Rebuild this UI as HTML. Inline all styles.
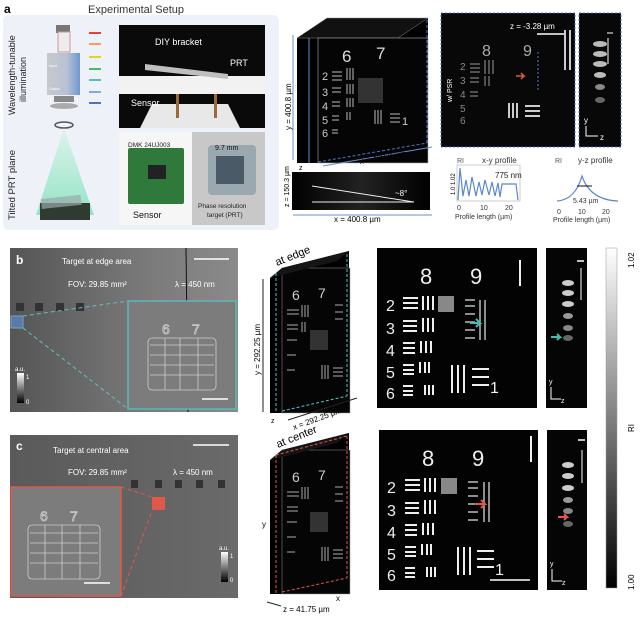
<!DOCTYPE html>
<html><head><meta charset="utf-8"><style>
html,body{margin:0;padding:0;background:#fff;width:640px;height:618px;overflow:hidden}
svg{display:block;font-family:"Liberation Sans",Arial,sans-serif}
</style></head><body>
<svg width="640" height="618" viewBox="0 0 640 618" xmlns="http://www.w3.org/2000/svg">
<defs>
<linearGradient id="cone" x1="0" y1="0" x2="0" y2="1"><stop offset="0" stop-color="#d8f5ea"/><stop offset="1" stop-color="#7fe0b8"/></linearGradient>
<linearGradient id="cb" x1="0" y1="0" x2="0" y2="1"><stop offset="0" stop-color="#fff"/><stop offset="1" stop-color="#000"/></linearGradient>
<linearGradient id="cam" x1="0" y1="0" x2="1" y2="0"><stop offset="0" stop-color="#c8c8cc"/><stop offset="0.6" stop-color="#b8c2d4"/><stop offset="1" stop-color="#6f96d0"/></linearGradient>
<linearGradient id="bgb" x1="0" y1="0" x2="1" y2="0"><stop offset="0" stop-color="#555"/><stop offset="0.6" stop-color="#7a7a7a"/><stop offset="1" stop-color="#8a8a8a"/></linearGradient>
<linearGradient id="bgc" x1="0" y1="0" x2="1" y2="0"><stop offset="0" stop-color="#5a5a5a"/><stop offset="1" stop-color="#6a6a6a"/></linearGradient>
<linearGradient id="prof" x1="0" y1="0" x2="1" y2="0"><stop offset="0" stop-color="#000"/><stop offset="0.5" stop-color="#222"/><stop offset="1" stop-color="#000"/></linearGradient>
</defs>

<!-- panel a -->
<text x="4" y="13" font-size="12" font-weight="bold">a</text>
<text x="88" y="13" font-size="11" fill="#333">Experimental Setup</text>
<rect x="3" y="15" width="276" height="215" rx="6" fill="#eef2f8"/>
<text transform="translate(15,115) rotate(-90)" font-size="9" fill="#222">Wavelength-tunable</text>
<text transform="translate(26,102) rotate(-90)" font-size="9" fill="#222">illumination</text>
<text transform="translate(15,220) rotate(-90)" font-size="9.5" fill="#222">Tilted PRT plane</text>
<rect x="56" y="25" width="14" height="8" fill="#777"/>
<rect x="58" y="32" width="12" height="20" fill="#ececec" stroke="#c99"/>
<rect x="47" y="53" width="33" height="42" fill="url(#cam)"/>
<text x="49" y="67" font-size="3.5" fill="#fff">Input</text>
<text x="49" y="90" font-size="3.5" fill="#fff">Output</text>
<rect x="54" y="96" width="20" height="6" fill="#888"/>
<ellipse cx="64" cy="106" rx="14" ry="3" fill="#aaa"/>
<ellipse cx="64" cy="125" rx="9" ry="3" fill="none" stroke="#555" stroke-width="1.5"/>
<polygon points="64,128 36,215 94,215" fill="url(#cone)" opacity="0.8"/>
<rect x="40" y="203" width="50" height="17" fill="#2f3a30"/>
<rect x="41" y="197" width="40" height="10" fill="#9aa" opacity="0.7" transform="rotate(-6 60 200)"/>
<g fill="none" stroke-width="2">
<line x1="89" y1="33" x2="101" y2="33" stroke="#e0463a"/><line x1="89" y1="44" x2="101" y2="44" stroke="#f0a060"/>
<line x1="89" y1="57" x2="101" y2="57" stroke="#e6d030"/><line x1="89" y1="69" x2="101" y2="69" stroke="#40c060"/>
<line x1="89" y1="80" x2="101" y2="80" stroke="#50c0c0"/><line x1="89" y1="92" x2="101" y2="92" stroke="#80a8d8"/>
<line x1="89" y1="103" x2="101" y2="103" stroke="#5070c0"/>
</g>
<rect x="119" y="25" width="146" height="103" fill="#0a0a0a"/>
<rect x="119" y="76" width="146" height="18" fill="#f2f2f2"/>
<polygon points="152,104 228,104 240,128 140,128" fill="#e8e8e8"/>
<polygon points="145,64 228,74 228,79 145,70" fill="#bfbfbf"/>
<rect x="176" y="94" width="3" height="24" fill="#9a6a3a"/><rect x="214" y="94" width="3" height="24" fill="#9a6a3a"/>
<text x="155" y="45" font-size="9" fill="#fff">DIY bracket</text>
<text x="230" y="66" font-size="9" fill="#fff">PRT</text>
<text x="131" y="106" font-size="9" fill="#fff">Sensor</text>
<rect x="119" y="132" width="73" height="93" fill="#f6f6f6"/>
<rect x="192" y="132" width="73" height="93" fill="#c8c8c8"/>
<rect x="128" y="148" width="56" height="56" rx="2" fill="#2f7a3a"/>
<rect x="148" y="165" width="18" height="14" fill="#222"/>
<text x="128" y="147" font-size="6.5" fill="#222">DMK 24UJ003</text>
<text x="133" y="218" font-size="9" fill="#111">Sensor</text>
<rect x="208" y="145" width="48" height="50" rx="4" fill="#9aa8b0"/>
<rect x="216" y="156" width="28" height="28" fill="#4a5a66"/>
<text x="215" y="150" font-size="7" fill="#111">9.7 mm</text>
<text x="198" y="208" font-size="6.5" fill="#222">Phase resolution</text>
<text x="207" y="217" font-size="6.5" fill="#222">target (PRT)</text>

<!-- cube a -->
<polygon points="297,163 297,38 327,18 428,18 428,143 327,163" fill="#000"/>
<polygon points="297,38 327,18 428,18 398,38" fill="#111" stroke="#888" stroke-width="0.5"/>
<rect x="318" y="38" width="110" height="125" fill="#050505" stroke="#aaa" stroke-width="0.6"/>
<line x1="309" y1="38" x2="309" y2="163" stroke="#6a8fcf" stroke-width="1"/>
<line x1="427" y1="20" x2="427" y2="143" stroke="#4f78c8" stroke-dasharray="3,2"/>
<line x1="318" y1="162" x2="427" y2="143" stroke="#4f78c8" stroke-dasharray="3,2"/>
<text x="342" y="62" font-size="17" fill="#ddd">6</text><text x="376" y="59" font-size="17" fill="#ddd">7</text>
<g fill="#ccc" font-size="11"><text x="322" y="80">2</text><text x="322" y="96">3</text><text x="322" y="110">4</text><text x="322" y="124">5</text><text x="322" y="137">6</text></g>
<g stroke="#bbb" stroke-width="1"><path d="M332,72h10M332,76h10M332,80h10M332,88h9M332,92h9M332,102h8M332,106h8M332,116h7M332,120h7M332,130h6M332,133h6"/>
<path d="M347,68v12M350,68v12M353,68v12M347,84v10M350,84v10M353,84v10M347,98v9M350,98v9M353,98v9M347,112v8M350,112v8M375,110v14M378,110v14M381,110v14M390,114h10M390,118h10M390,122h10"/></g>
<text x="402" y="125" font-size="11" fill="#ccc">1</text>
<rect x="358" y="78" width="25" height="25" fill="#333"/>
<line x1="293" y1="35" x2="293" y2="160" stroke="#6a8fcf"/>
<text transform="translate(291,130) rotate(-90)" font-size="8">y = 400.8 µm</text>
<line x1="323" y1="166" x2="432" y2="147" stroke="#6a8fcf"/>
<text transform="translate(360,164) rotate(-10)" font-size="8">x = 400.8 µm</text>
<text x="299" y="170" font-size="7">z</text>
<rect x="292" y="172" width="138" height="38" fill="url(#prof)"/>
<line x1="312" y1="186" x2="414" y2="202" stroke="#eee"/><line x1="312" y1="202" x2="414" y2="202" stroke="#eee"/>
<text x="395" y="196" font-size="8" fill="#fff">~8°</text>
<text transform="translate(289,207) rotate(-90)" font-size="7">z = 150.3 µm</text>
<line x1="293" y1="215" x2="432" y2="215" stroke="#6a8fcf"/>
<text x="334" y="222" font-size="8">x = 400.8 µm</text>

<!-- recon a -->
<rect x="441" y="13" width="134" height="134" fill="#080808" stroke="#4f78c8" stroke-dasharray="2,2"/>
<text x="510" y="29" font-size="8" fill="#fff">z = -3.28 µm</text>
<line x1="537" y1="34" x2="565" y2="34" stroke="#fff" stroke-width="1.5"/>
<text x="482" y="56" font-size="16" fill="#aaa">8</text><text x="523" y="56" font-size="16" fill="#aaa">9</text>
<text transform="translate(452,102) rotate(-90)" font-size="7" fill="#fff">w/ PSR</text>
<g fill="#888" font-size="10"><text x="460" y="70">2</text><text x="460" y="84">3</text><text x="460" y="98">4</text><text x="460" y="112">5</text><text x="460" y="124">6</text></g>
<g stroke="#999"><path d="M470,64h10M470,68h10M470,72h10M470,78h9M470,82h9M470,92h8M470,96h8M485,60v14M489,60v14M493,60v14M485,76v10M489,76v10"/>
<path d="M509,103v15M513,103v15M517,103v15M525,106h15M525,111h15M525,116h15M565,30v40M570,30v40" stroke="#ccc" stroke-width="2"/></g>
<line x1="538" y1="52" x2="538" y2="92" stroke="#4f78c8" stroke-dasharray="2,2"/>
<path d="M516,76h8l-3,-3M524,76l-3,3" stroke="#e35a44" stroke-width="1.5" fill="none"/>
<rect x="579" y="13" width="42" height="134" fill="#080808" stroke="#4f78c8" stroke-dasharray="2,2"/>
<g fill="#bbb"><ellipse cx="600" cy="44" rx="7" ry="3"/><ellipse cx="600" cy="54" rx="7" ry="3"/><ellipse cx="600" cy="64" rx="7" ry="3"/><ellipse cx="600" cy="75" rx="6" ry="3"/><ellipse cx="600" cy="87" rx="5" ry="3" fill="#888"/><ellipse cx="600" cy="100" rx="5" ry="3" fill="#666"/></g>
<line x1="608" y1="38" x2="608" y2="64" stroke="#fff"/><line x1="607" y1="33" x2="613" y2="33" stroke="#fff"/>
<text x="584" y="123" font-size="8" fill="#fff">y</text><text x="600" y="140" font-size="8" fill="#fff">z</text>
<path d="M586,126v10h12" stroke="#fff" fill="none"/>
<text x="457" y="163" font-size="7" fill="#555">RI</text><text x="482" y="163" font-size="8" fill="#333">x-y profile</text>
<rect x="457" y="165" width="63" height="36" fill="none" stroke="#999" stroke-width="0.5"/>
<polyline points="458,200 460,168 463,196 466,180 469,196 472,177 476,196 479,182 482,195 485,180 489,195 492,182 495,196 498,183 500,197 502,184 516,184 518,200" fill="none" stroke="#5b88d0" stroke-width="1.2"/>
<text x="495" y="178" font-size="8" fill="#222">775 nm</text>
<text transform="translate(455,195) rotate(-90)" font-size="6">1.0  1.02</text>
<g font-size="7" fill="#333"><text x="457" y="210">0</text><text x="480" y="210">10</text><text x="505" y="210">20</text><text x="455" y="219">Profile length (µm)</text></g>
<text x="555" y="163" font-size="7" fill="#555">RI</text><text x="578" y="163" font-size="8" fill="#333">y-z profile</text>
<path d="M557,201 Q575,200 582,176 Q590,200 618,201" fill="none" stroke="#5b88d0" stroke-width="1.2"/>
<line x1="577" y1="186" x2="592" y2="186" stroke="#111"/>
<text x="573" y="203" font-size="7" fill="#333">5.43 µm</text>
<g font-size="7" fill="#333"><text x="557" y="214">0</text><text x="578" y="214">10</text><text x="602" y="214">20</text><text x="553" y="222">Profile length (µm)</text></g>

<!-- panel b -->
<rect x="10" y="248" width="228" height="164" fill="url(#bgb)"/>
<line x1="186" y1="248" x2="188" y2="412" stroke="#111"/>
<text x="16" y="264" font-size="12" font-weight="bold" fill="#fff">b</text>
<text x="62" y="264" font-size="8" fill="#fff">Target at edge area</text>
<text x="68" y="287" font-size="8" fill="#fff">FOV: 29.85 mm²</text>
<text x="175" y="287" font-size="8" fill="#fff">λ = 450 nm</text>
<line x1="194" y1="259" x2="229" y2="259" stroke="#fff" stroke-width="1.5"/>
<g fill="#333"><rect x="16" y="303" width="8" height="8"/><rect x="35" y="303" width="8" height="8"/><rect x="56" y="303" width="8" height="8"/><rect x="76" y="303" width="8" height="8"/></g>
<rect x="11" y="316" width="12" height="12" fill="#5a7aa8" stroke="#7aa0c8"/>
<path d="M23,316 L128,301 M23,328 L128,409" stroke="#5cc0c0" stroke-dasharray="4,3"/>
<rect x="128" y="301" width="108" height="108" fill="#7c7c7c" stroke="#5cb8b8" stroke-width="1.5"/>
<g fill="none" stroke="#ccc" stroke-width="0.8"><text x="162" y="334" font-size="14" fill="none" stroke="#ccc">6</text><text x="192" y="334" font-size="14" fill="none" stroke="#ccc">7</text>
<rect x="148" y="338" width="68" height="52" rx="4"/><path d="M150,345h64M150,355h64M150,365h64M150,375h64M165,338v52M180,338v52M198,338v52"/></g>
<line x1="202" y1="399" x2="228" y2="399" stroke="#fff" stroke-width="1.5"/>
<rect x="17" y="373" width="7" height="30" fill="url(#cb)"/>
<text x="15" y="371" font-size="6" fill="#fff">a.u.</text><text x="26" y="379" font-size="6" fill="#fff">1</text><text x="26" y="404" font-size="6" fill="#fff">0</text>

<!-- panel c -->
<rect x="10" y="435" width="228" height="163" fill="url(#bgc)"/>
<text x="16" y="450" font-size="12" font-weight="bold" fill="#fff">c</text>
<text x="53" y="453" font-size="8" fill="#fff">Target at central area</text>
<text x="68" y="475" font-size="8" fill="#fff">FOV: 29.85 mm²</text>
<text x="173" y="475" font-size="8" fill="#fff">λ = 450 nm</text>
<line x1="193" y1="445" x2="229" y2="445" stroke="#fff" stroke-width="1.5"/>
<rect x="11" y="487" width="110" height="109" fill="#7c7c7c" stroke="#e0584a" stroke-width="1.5"/>
<g fill="none" stroke="#ccc" stroke-width="0.8"><text x="40" y="521" font-size="14" fill="none" stroke="#ccc">6</text><text x="70" y="521" font-size="14" fill="none" stroke="#ccc">7</text>
<rect x="28" y="525" width="72" height="54" rx="4"/><path d="M30,533h68M30,543h68M30,553h68M30,563h68M45,525v54M62,525v54M80,525v54"/></g>
<line x1="84" y1="583" x2="110" y2="583" stroke="#fff" stroke-width="1.5"/>
<path d="M121,487 L152,497 M121,596 L152,511" stroke="#e0584a" stroke-dasharray="4,3"/>
<rect x="152" y="497" width="13" height="13" fill="#e0584a"/>
<g fill="#333"><rect x="131" y="480" width="7" height="8"/><rect x="155" y="480" width="7" height="8"/><rect x="175" y="480" width="7" height="8"/><rect x="196" y="480" width="7" height="8"/><rect x="218" y="480" width="7" height="8"/></g>
<rect x="221" y="552" width="7" height="30" fill="url(#cb)"/>
<text x="219" y="550" font-size="6" fill="#fff">a.u.</text><text x="230" y="558" font-size="6" fill="#fff">1</text><text x="230" y="582" font-size="6" fill="#fff">0</text>

<!-- cubes b/c -->
<g>
<polygon points="270,413 270,278 282,268 349,251 349,395 282,413" fill="#000"/>
<rect x="282" y="268" width="68" height="145" fill="#050505" stroke="#999" stroke-width="0.5"/>
<polygon points="270,278 282,268 349,251 337,261" fill="#151515"/>
<line x1="276" y1="273" x2="276" y2="413" stroke="#5cc0c0" stroke-dasharray="3,2"/>
<line x1="347" y1="254" x2="347" y2="396" stroke="#5cc0c0" stroke-dasharray="3,2"/>
<line x1="282" y1="411" x2="347" y2="396" stroke="#5cc0c0" stroke-dasharray="3,2"/>
<text transform="translate(277,266) rotate(-22)" font-size="11">at edge</text>
<line x1="263" y1="279" x2="263" y2="412" stroke="#222"/>
<text transform="translate(260,375) rotate(-90)" font-size="8">y = 292.25 µm</text>
<text transform="translate(294,430) rotate(-20)" font-size="8">x = 292.25 µm</text>
<line x1="288" y1="420" x2="357" y2="398" stroke="#222"/>
<text x="271" y="423" font-size="7">z</text>
<text x="292" y="300" font-size="14" fill="#ccc">6</text><text x="318" y="298" font-size="14" fill="#ccc">7</text>
<g stroke="#aaa"><path d="M287,310h12M287,314h12M287,325h11M287,329h11M287,340h10M287,355h9M287,370h8M302,305v12M305,305v12M308,305v12M302,322v10M305,322v10M322,365v14M325,365v14M328,365v14M333,368h10M333,372h10M333,376h10M335,305h8M335,312h8M335,319h8"/></g>
<rect x="310" y="330" width="18" height="20" fill="#333"/>
</g>
<g>
<polygon points="270,594 270,460 282,450 349,433 349,577 282,594" fill="#000"/>
<rect x="282" y="450" width="68" height="144" fill="#050505" stroke="#999" stroke-width="0.5"/>
<polygon points="270,460 282,450 349,433 337,443" fill="#151515"/>
<line x1="276" y1="455" x2="276" y2="594" stroke="#e0584a" stroke-dasharray="3,2"/>
<line x1="347" y1="436" x2="347" y2="578" stroke="#e0584a" stroke-dasharray="3,2"/>
<line x1="282" y1="592" x2="347" y2="578" stroke="#e0584a" stroke-dasharray="3,2"/>
<line x1="276" y1="455" x2="347" y2="436" stroke="#e0584a" stroke-dasharray="3,2"/>
<text transform="translate(278,448) rotate(-22)" font-size="11">at center</text>
<text x="262" y="527" font-size="8">y</text>
<text x="336" y="601" font-size="8">x</text>
<text x="283" y="612" font-size="8">z = 41.75 µm</text>
<line x1="267" y1="602" x2="281" y2="606" stroke="#222"/>
<text x="292" y="482" font-size="14" fill="#ccc">6</text><text x="318" y="480" font-size="14" fill="#ccc">7</text>
<g stroke="#aaa"><path d="M287,492h12M287,496h12M287,507h11M287,511h11M287,522h10M287,537h9M287,552h8M302,487v12M305,487v12M308,487v12M322,547v14M325,547v14M328,547v14M333,550h10M333,554h10M333,558h10M335,487h8M335,494h8M335,501h8"/></g>
<rect x="310" y="512" width="18" height="20" fill="#333"/>
</g>

<!-- recon b -->
<g>
<rect x="377" y="248" width="160" height="160" fill="#030303"/>
<text x="420" y="284" font-size="22" fill="#eee">8</text><text x="470" y="284" font-size="22" fill="#eee">9</text>
<g fill="#eee" font-size="16"><text x="386" y="311">2</text><text x="386" y="334">3</text><text x="386" y="356">4</text><text x="386" y="378">5</text><text x="386" y="399">6</text></g>
<g stroke="#eee" stroke-width="2"><path d="M403,298h15M403,303h15M403,308h15M403,321h14M403,326h14M403,331h14M403,343h12M403,348h12M403,353h12M403,365h11M403,370h11M403,374h11M403,386h10M403,391h10M403,395h10"/>
<path d="M423,296v14M428,296v14M433,296v14M423,318v14M428,318v14M433,318v14M421,341v12M426,341v12M431,341v12M420,362v11M425,362v11M429,362v11M425,385v10M429,385v10M433,385v10M452,365v28M458,365v28M464,365v28M472,369h17M472,377h17M472,385h17M520,260v26"/></g>
<text x="490" y="393" font-size="16" fill="#eee">1</text>
<rect x="438" y="296" width="16" height="16" fill="#888"/>
<g stroke="#bbb" stroke-width="1.5"><path d="M465,300h10M465,306h10M465,314h10M465,322h10M465,330h10M465,338h10M480,300v40M485,300v40"/></g>
<path d="M470,323h10l-4,-4M480,323l-4,4" stroke="#4fb8b0" stroke-width="2" fill="none"/>
</g>
<g>
<rect x="379" y="430" width="159" height="160" fill="#030303"/>
<text x="422" y="466" font-size="22" fill="#eee">8</text><text x="472" y="466" font-size="22" fill="#eee">9</text>
<g fill="#eee" font-size="16"><text x="387" y="493">2</text><text x="387" y="516">3</text><text x="387" y="538">4</text><text x="387" y="560">5</text><text x="387" y="581">6</text></g>
<g stroke="#eee" stroke-width="2"><path d="M405,480h15M405,485h15M405,490h15M405,503h14M405,508h14M405,513h14M405,525h12M405,530h12M405,535h12M405,547h11M405,552h11M405,556h11M405,568h10M405,573h10M405,577h10"/>
<path d="M425,478v14M430,478v14M435,478v14M425,500v14M430,500v14M435,500v14M423,523v12M428,523v12M433,523v12M422,544v11M427,544v11M431,544v11M427,567v10M431,567v10M435,567v10M458,547v28M464,547v28M470,547v28M477,551h17M477,559h17M477,567h17M531,436v26"/></g>
<text x="495" y="575" font-size="16" fill="#eee">1</text>
<rect x="441" y="478" width="16" height="16" fill="#888"/>
<g stroke="#bbb" stroke-width="1.5"><path d="M468,482h10M468,488h10M468,496h10M468,504h10M468,512h10M468,520h10M484,482v40M489,482v40"/></g>
<path d="M475,504h10l-4,-4M485,504l-4,4" stroke="#e0584a" stroke-width="2" fill="none"/>
<line x1="490" y1="580" x2="530" y2="580" stroke="#fff" stroke-width="1.5"/>
</g>

<g>
<rect x="546" y="248" width="41" height="160" fill="#050505"/>
<g fill="#ccc"><ellipse cx="568" cy="283" rx="6" ry="3"/><ellipse cx="568" cy="293" rx="6" ry="3"/><ellipse cx="568" cy="304" rx="6" ry="3"/><ellipse cx="568" cy="316" rx="5" ry="3" fill="#999"/><ellipse cx="568" cy="328" rx="5" ry="3" fill="#888"/><ellipse cx="568" cy="338" rx="5" ry="3" fill="#666"/></g>
<line x1="581" y1="268" x2="581" y2="300" stroke="#fff"/><line x1="577" y1="261" x2="584" y2="261" stroke="#fff" stroke-width="1.5"/>
<path d="M551,337h9l-3,-3M560,337l-3,3" stroke="#4fb8b0" stroke-width="2" fill="none"/>
<text x="549" y="384" font-size="7" fill="#fff">y</text><text x="561" y="403" font-size="7" fill="#fff">z</text>
<path d="M551,387v12h10" stroke="#fff" fill="none"/>
</g>
<g>
<rect x="547" y="430" width="40" height="160" fill="#050505"/>
<g fill="#ccc"><ellipse cx="568" cy="465" rx="6" ry="3"/><ellipse cx="568" cy="476" rx="6" ry="3"/><ellipse cx="568" cy="488" rx="6" ry="3"/><ellipse cx="568" cy="500" rx="5" ry="3" fill="#999"/><ellipse cx="568" cy="511" rx="5" ry="3" fill="#888"/><ellipse cx="568" cy="524" rx="5" ry="3" fill="#666"/></g>
<line x1="582" y1="450" x2="582" y2="483" stroke="#fff"/><line x1="578" y1="440" x2="585" y2="440" stroke="#fff" stroke-width="1.5"/>
<path d="M558,517h9l-3,-3M567,517l-3,3" stroke="#e0584a" stroke-width="2" fill="none"/>
<text x="550" y="566" font-size="7" fill="#fff">y</text><text x="562" y="585" font-size="7" fill="#fff">z</text>
<path d="M552,569v12h10" stroke="#fff" fill="none"/>
</g>

<rect x="606" y="248" width="11" height="340" fill="url(#cb)" stroke="#999" stroke-width="0.5"/>
<text transform="translate(634,268) rotate(-90)" font-size="8">1.02</text>
<text transform="translate(634,590) rotate(-90)" font-size="8">1.00</text>
<text transform="translate(634,432) rotate(-90)" font-size="8">RI</text>
</svg>
</body></html>
